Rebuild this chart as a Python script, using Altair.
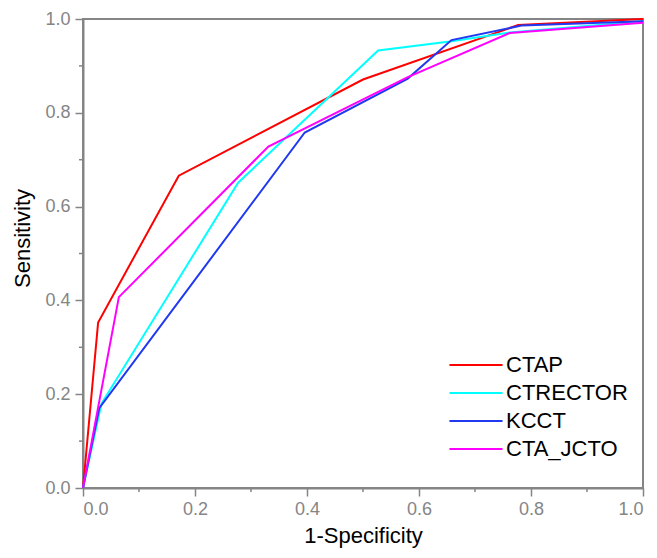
import altair as alt
import pandas as pd

series = ["CTAP", "CTRECTOR", "KCCT", "CTA_JCTO"]
colors = ["#FF0000", "#00FFFF", "#2038F0", "#FF00FF"]

ctap_x = [0.0, 0.027, 0.171, 0.5, 0.777, 1.0]
ctap_y = [0.0, 0.353, 0.666, 0.871, 0.987, 1.0]

ctrector_x = [0.0, 0.033, 0.277, 0.527, 0.655, 0.762, 1.0]
ctrector_y = [0.0, 0.18, 0.651, 0.933, 0.952, 0.971, 0.995]

kcct_x = [0.0, 0.029, 0.396, 0.58, 0.658, 0.783, 1.0]
kcct_y = [0.0, 0.17, 0.758, 0.873, 0.955, 0.986, 0.995]

jcto_x = [0.0, 0.064, 0.331, 0.58, 0.762, 1.0]
jcto_y = [0.0, 0.407, 0.728, 0.876, 0.97, 0.992]

major_ticks = [0.0, 0.2, 0.4, 0.6, 0.8, 1.0]
minor_ticks = [0.1, 0.3, 0.5, 0.7, 0.9]

rows = []
for name, xs, ys in zip(series, [ctap_x, ctrector_x, kcct_x, jcto_x],
                        [ctap_y, ctrector_y, kcct_y, jcto_y]):
    for i, (a, b) in enumerate(zip(xs, ys)):
        rows.append({"series": name, "fpr": a, "tpr": b, "idx": i})
df = pd.DataFrame(rows)
minor_df = pd.DataFrame({"fpr": minor_ticks, "tpr": minor_ticks})

TOP = 11
W, H = 560, 480 - TOP
FONT = "Liberation Sans"
GRAY = "#858585"

xscale = alt.Scale(domain=[0, 1], nice=False)
yscale = alt.Scale(domain=[0, 1], nice=False)

x_axis = alt.Axis(title="1-Specificity", values=major_ticks, format=".1f",
                  tickSize=8, labelPadding=4, titlePadding=7)
y_axis = alt.Axis(title="Sensitivity", values=major_ticks, format=".1f",
                  tickSize=8, labelPadding=5, titlePadding=10, titleY=238 - 8 - TOP)

lines = alt.Chart(df).mark_line(strokeWidth=2).encode(
    x=alt.X("fpr:Q", scale=xscale, axis=x_axis),
    y=alt.Y("tpr:Q", scale=yscale, axis=y_axis),
    color=alt.Color("series:N", sort=series,
                    scale=alt.Scale(domain=series, range=colors),
                    legend=alt.Legend(title=None, orient="none", legendX=382,
                                      legendY=338 - (TOP - 8),
                                      symbolType="M-4,0H4", symbolSize=176,
                                      symbolStrokeWidth=2, labelFontSize=22,
                                      labelFont=FONT, labelColor="#000000",
                                      labelOffset=19, rowPadding=6, padding=0)),
    order=alt.Order("idx:Q"),
)

xminor = alt.Chart(minor_df).mark_rule(color=GRAY, strokeWidth=1.5).encode(
    x=alt.X("fpr:Q", scale=xscale, axis=x_axis),
    y=alt.value(H),
    y2=alt.value(H + 4),
)

yminor = alt.Chart(minor_df).mark_rule(color=GRAY, strokeWidth=1.5).encode(
    y=alt.Y("tpr:Q", scale=yscale, axis=y_axis),
    x=alt.value(-4),
    x2=alt.value(0),
)

chart = alt.layer(lines, xminor, yminor).properties(
    width=W, height=H,
    autosize=alt.AutoSizeParams(type="none"),
    padding={"left": 75, "top": TOP, "right": 6, "bottom": 62},
).configure_view(
    stroke=GRAY, strokeWidth=2
).configure_axis(
    grid=False,
    domainColor=GRAY, domainWidth=2,
    tickColor=GRAY, tickWidth=1.5,
    labelColor=GRAY, labelFontSize=18, labelFont=FONT,
    titleColor="#000000", titleFontSize=22, titleFont=FONT, titleFontWeight="normal",
)

chart.save("out.html", embed_options={"renderer": "svg", "actions": False})
